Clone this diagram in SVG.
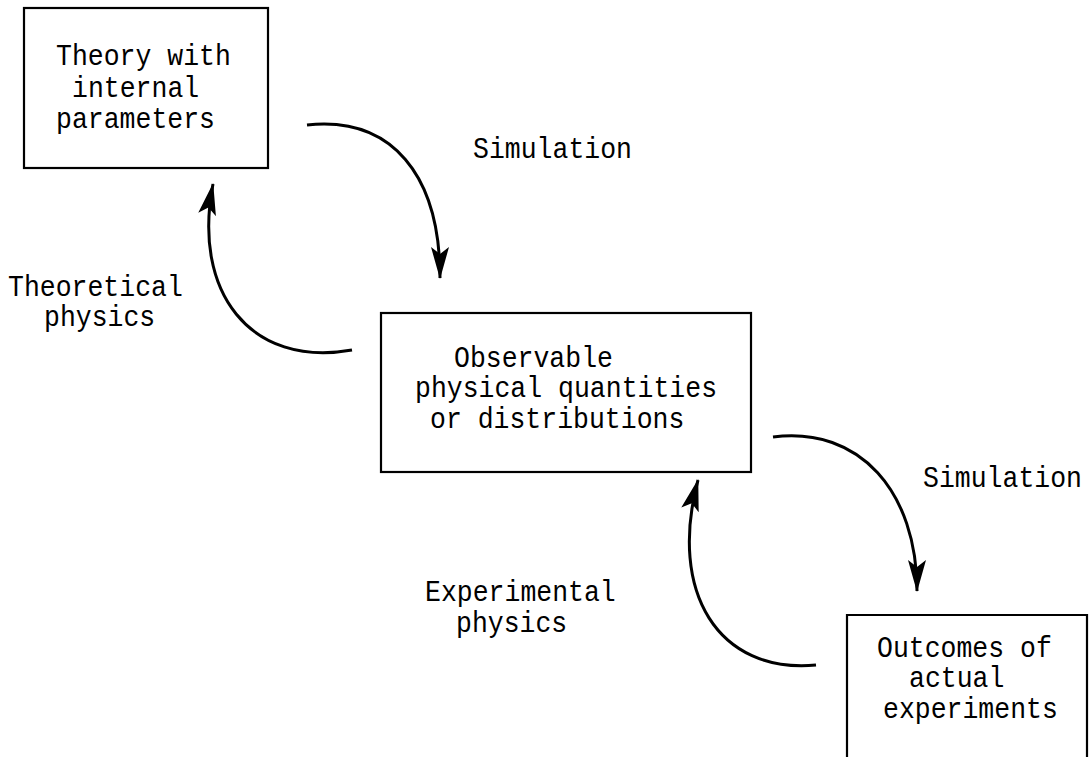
<svg xmlns="http://www.w3.org/2000/svg" width="1089" height="757" viewBox="0 0 1089 757">
<style>
.box{fill:none;stroke:#000;stroke-width:2.2}
.arc{fill:none;stroke:#000;stroke-width:3}
text{font-family:"Liberation Mono","Courier New",monospace;font-size:26.5px;fill:#000}
</style>
<defs>
<marker id="ah" viewBox="0 0 32 20" markerWidth="32" markerHeight="20" refX="31" refY="10" orient="auto" markerUnits="userSpaceOnUse">
<path d="M0,1 L32,10 L0,19 L7,10 Z" fill="#000"/>
</marker>
</defs>
<rect width="1089" height="757" fill="#fff"/>
<g id="theory">
<rect class="box" x="24" y="8" width="244" height="160"/>
<text transform="translate(0,65) scale(1,1.12)"><tspan x="56" y="0">Theory with</tspan><tspan x="72" y="28.6">internal</tspan><tspan x="56" y="56.2">parameters</tspan></text>
</g>
<g id="observable">
<rect class="box" x="381" y="313" width="370" height="159"/>
<text transform="translate(0,367) scale(1,1.12)"><tspan x="454" y="0">Observable</tspan><tspan x="415" y="26.8">physical quantities</tspan><tspan x="430" y="54.5">or distributions</tspan></text>
</g>
<g id="outcomes">
<path class="box" d="M847,760 L847,615 L1087,615 L1087,760"/>
<text transform="translate(0,657) scale(1,1.12)"><tspan x="877" y="0">Outcomes of</tspan><tspan x="909" y="26.8">actual</tspan><tspan x="883" y="54.5">experiments</tspan></text>
</g>
<g id="labels">
<text transform="translate(473,158) scale(1,1.12)">Simulation</text>
<text transform="translate(0,296) scale(1,1.12)"><tspan x="8" y="0">Theoretical</tspan><tspan x="44" y="26.8">physics</tspan></text>
<text transform="translate(923,487) scale(1,1.12)">Simulation</text>
<text transform="translate(0,601) scale(1,1.12)"><tspan x="425" y="0">Experimental</tspan><tspan x="456" y="27.7">physics</tspan></text>
</g>
<g id="connectors">
<path class="arc" d="M307,125 C392,116 440,175 440,278" marker-end="url(#ah)"/>
<path class="arc" d="M352,350 C250,368 192,292 213,184" marker-end="url(#ah)"/>
<path class="arc" d="M773,437 C860,426 917,492 917,591" marker-end="url(#ah)"/>
<path class="arc" d="M816,665 C718,674 668,592 698,480" marker-end="url(#ah)"/>
</g>
</svg>
